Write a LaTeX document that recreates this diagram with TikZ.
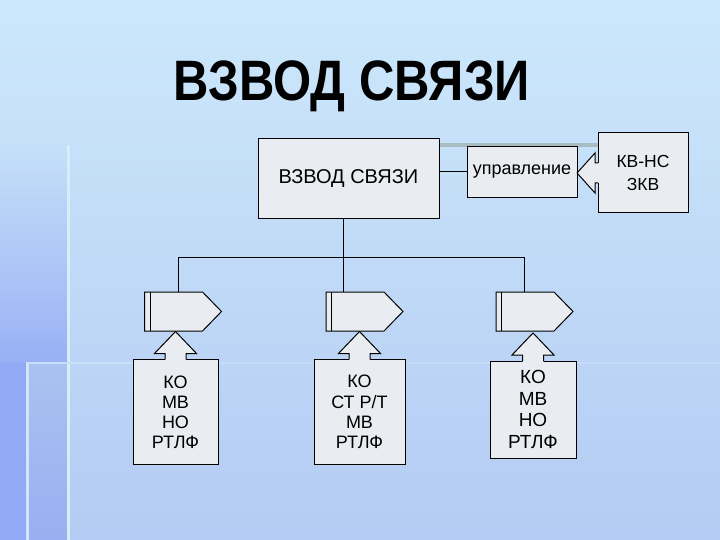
\documentclass[tikz,border=0pt]{standalone}
\usepackage{fontspec}
\setmainfont{Liberation Sans}
\usepackage{graphicx}
\definecolor{bgtop}{HTML}{CCE8FB}
\definecolor{bgbot}{HTML}{B4CBF3}
\definecolor{stripbot}{HTML}{98B0F5}
\definecolor{darkleft}{HTML}{92AAF5}
\definecolor{midleft}{HTML}{AAC2F0}
\definecolor{deco}{HTML}{D6EEF8}
\definecolor{greyline}{HTML}{A9BDC0}
\definecolor{boxfill}{HTML}{E9EDF1}
\tikzset{
  boxnode/.style={draw=black, line width=1pt, fill=boxfill, inner sep=0pt, outer sep=0pt, align=center},
  bodynode/.style={inner sep=0pt, outer sep=0pt, minimum width=58pt, minimum height=39pt},
  conn/.style={draw=black, line width=1pt},
  shapeline/.style={draw=black, line width=1pt, line join=miter},
  uparrowpic/.pic={
    \fill[boxfill] (-10.5,1.2) -- (-10.5,-6) -- (-21,-6) -- (0,-28) -- (21,-6) -- (10.5,-6) -- (10.5,1.2) -- cycle;
    \draw[shapeline] (-10.5,0) -- (-10.5,-6) -- (-21,-6) -- (0,-28) -- (21,-6) -- (10.5,-6) -- (10.5,0);
  },
  leftarrowpic/.pic={
    \fill[boxfill] (1.2,-10) -- (-3,-10) -- (-3,-20) -- (-21,0) -- (-3,20) -- (-3,10) -- (1.2,10) -- cycle;
    \draw[shapeline] (0,-10) -- (-3,-10) -- (-3,-20) -- (-21,0) -- (-3,20) -- (-3,10) -- (0,10);
  }
}
\begin{document}
\begin{tikzpicture}[x=1pt,y=-1pt]
\useasboundingbox (0,0) rectangle (720,540);
% background
\shade[top color=bgtop, bottom color=bgbot] (0,0) rectangle (720,540);
\shade[top color=bgtop!73!bgbot, bottom color=stripbot] (0,145) rectangle (68,363);
\fill[darkleft] (0,363) rectangle (27,540);
\shade[top color=midleft, bottom color=midleft!90!blue] (27,363) rectangle (68,540);
\draw[deco, line width=3pt] (68,145) -- (68,540);
\draw[deco!80!bgbot, line width=3pt] (27,362) -- (27,540);
\draw[deco!60!bgbot, line width=2pt] (27,363) -- (135,363);
\draw[white, opacity=0.15, line width=2pt] (135,363) -- (720,363);
\draw[greyline, line width=3.5pt] (440,145) -- (598,145);

% title
\node[anchor=base, font=\bfseries\fontsize{57}{57}\selectfont] (title) at (352,101) {\scalebox{0.86}[1]{ВЗВОД СВЯЗИ}};

% top boxes
\node[boxnode, minimum width=181pt, minimum height=80pt, font=\fontsize{20}{22}\selectfont] (main) at (348.5,179) {ВЗВОД СВЯЗИ};
\node[boxnode, minimum width=110pt, minimum height=51pt, font=\fontsize{18}{19}\selectfont] (uprav) at (522,172) {управление};
\node[boxnode, minimum width=90pt, minimum height=80pt, font=\fontsize{17.5}{23}\selectfont] (kv) at (643,173) {КВ-НС\\ЗКВ};
\pic at (kv.west) {leftarrowpic};
\draw[conn] (uprav.west) -- (uprav.west -| main.east);

% bus
\coordinate (t) at (343,257);
\coordinate (b1) at (178,257);
\coordinate (b3) at (524,257);
\draw[conn] (t |- main.south) -- (t);
\draw[conn] (b1) -- (b3);

% pentagons
\node[bodynode] (p1) at (173.5,311.5) {};
\node[bodynode] (p2) at (355,311.5) {};
\node[bodynode] (p3) at (525,311.5) {};
\foreach \p in {p1,p2,p3}{
  \draw[shapeline, fill=boxfill] (\p.north west) -- (\p.north east) -- ([xshift=19pt]\p.east) -- (\p.south east) -- (\p.south west) -- cycle;
  \draw[shapeline] ([xshift=5.5pt]\p.north west) -- ([xshift=5.5pt]\p.south west);
}
\draw[conn] (b1) -- (b1 |- p1.north);
\draw[conn] (t) -- (t |- p2.north);
\draw[conn] (b3) -- (b3 |- p3.north);

% bottom boxes
\node[boxnode, minimum width=85pt, minimum height=105pt, font=\fontsize{18}{20}\selectfont] (c1) at (175.5,412) {КО\\МВ\\НО\\РТЛФ};
\node[boxnode, minimum width=91pt, minimum height=105pt, font=\fontsize{18}{20.3}\selectfont] (c2) at (359.5,412) {КО\\СТ Р/Т\\МВ\\РТЛФ};
\node[boxnode, minimum width=86pt, minimum height=97pt, font=\fontsize{19}{21.7}\selectfont] (c3) at (533,409.5) {КО\\МВ\\НО\\РТЛФ};
\pic at (c1.north) {uparrowpic};
\pic at (c2.north) {uparrowpic};
\pic at (c3.north) {uparrowpic};
\end{tikzpicture}
\end{document}
